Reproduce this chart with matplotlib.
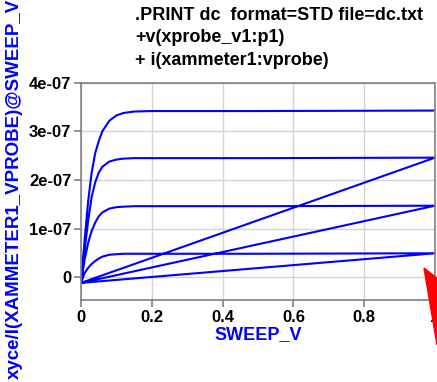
import matplotlib
matplotlib.use('Agg')
import matplotlib.pyplot as plt
from matplotlib.patches import Polygon

plt.rcParams['font.family'] = ['Liberation Sans', 'DejaVu Sans']

# sweep points (SWEEP_V) and currents (units of 1e-7) for each gate step
sweep_v = [0, 0.01, 0.02, 0.03, 0.04, 0.05, 0.06, 0.08, 0.1, 0.12, 0.15, 0.2, 0.3, 0.5, 1.0]
i_step1 = [-0.12, 0.08, 0.19, 0.27, 0.33, 0.38, 0.42, 0.46, 0.47, 0.48, 0.48, 0.48, 0.48, 0.48, 0.49]
i_step2 = [-0.12, 0.35, 0.70, 0.95, 1.12, 1.25, 1.33, 1.41, 1.44, 1.45, 1.46, 1.46, 1.46, 1.46, 1.47]
i_step3 = [-0.12, 0.55, 1.15, 1.65, 1.95, 2.15, 2.27, 2.38, 2.42, 2.44, 2.45, 2.45, 2.45, 2.45, 2.46]
i_step4 = [-0.12, 0.75, 1.55, 2.15, 2.55, 2.80, 3.00, 3.22, 3.33, 3.38, 3.41, 3.42, 3.42, 3.42, 3.43]

header = ['.PRINT dc  format=STD file=dc.txt',
          '+v(xprobe_v1:p1)',
          '+ i(xammeter1:vprobe)']

x_all = []
y_all = []
for s in [i_step1, i_step2, i_step3, i_step4]:
    x_all += sweep_v
    y_all += [v * 1e-7 for v in s]

fig = plt.figure(figsize=(4.37, 3.82), dpi=100)
ax = fig.add_axes([0.1854, 0.215, 0.81, 0.568])

ax.plot(x_all, y_all, color='#0000ff', linewidth=1.5)

ax.set_xlim(0, 1)
ax.set_ylim(-0.47e-7, 4e-7)
ax.set_xticks([0, 0.2, 0.4, 0.6, 0.8, 1])
ax.set_xticklabels(['0', '0.2', '0.4', '0.6', '0.8', '1'])
ax.set_yticks([0, 1e-7, 2e-7, 3e-7, 4e-7])
ax.set_yticklabels(['0', '1e-07', '2e-07', '3e-07', '4e-07'])
ax.grid(True, color='#d4d4d4', linewidth=1)
for sp in ax.spines.values():
    sp.set_color('#808080')
    sp.set_linewidth(1.2)
ax.tick_params(direction='out', length=5, color='#808080', width=1.2,
               labelsize=12, pad=2)
for lab in ax.get_xticklabels() + ax.get_yticklabels():
    lab.set_fontweight('bold')

ax.set_xlabel('SWEEP_V', color='#0000ff', fontsize=13, fontweight='bold', labelpad=1)
fig.text(0.034, 0.505, 'xyce/I(XAMMETER1_VPROBE)@SWEEP_V', rotation=90,
         color='#0000ff', fontsize=13.5, fontweight='bold', ha='center', va='center')

for k, line in enumerate(header):
    fig.text(0.309, 0.96 - k * 0.059, line, fontsize=13, fontweight='bold',
             ha='left', va='center')

tri = Polygon([(424 / 437, 1 - 268 / 382), (452 / 437, 1 - 290 / 382), (437 / 437, 1 - 345 / 382)],
              closed=True, color='#ff0000', transform=fig.transFigure, clip_on=False)
fig.patches.append(tri)

fig.savefig('out.png', dpi=100)
